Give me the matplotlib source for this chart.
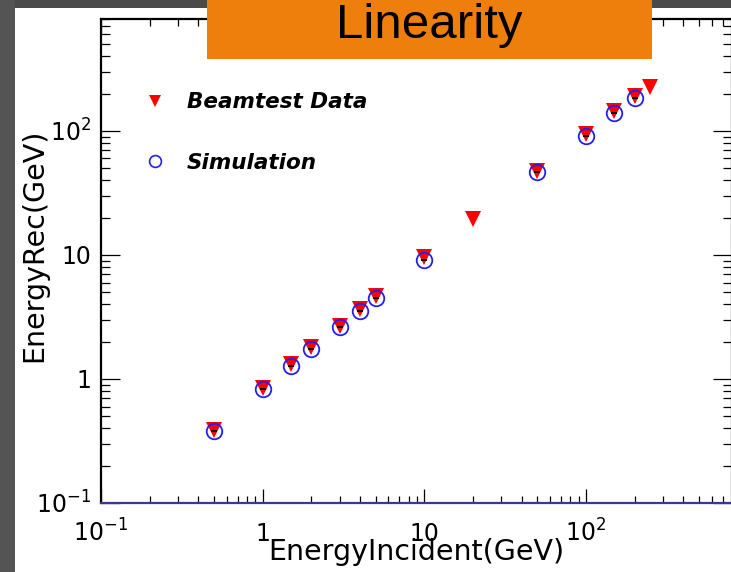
import matplotlib
matplotlib.use("Agg")
import matplotlib.pyplot as plt
from matplotlib.patches import Rectangle
from matplotlib.lines import Line2D
from matplotlib.ticker import FixedLocator, NullFormatter, LogLocator

plt.rcParams['font.family'] = ['DejaVu Sans']
plt.rcParams['mathtext.fontset'] = 'dejavusans'

# ---- data ----
beam_energy = [0.5, 1, 1.5, 2, 3, 4, 5, 10, 20, 50, 100, 150, 200, 250]
beam_rec = [0.39, 0.85, 1.31, 1.80, 2.70, 3.65, 4.63, 9.6, 19.4, 48, 94, 144, 190, 228]
sim_energy = [0.5, 1, 1.5, 2, 3, 4, 5, 10, 50, 100, 150, 200]
sim_rec = [0.381, 0.83, 1.27, 1.75, 2.63, 3.54, 4.50, 9.12, 46.7, 91.2, 139.7, 184.6]
tick_vals = [0.1, 1, 10, 100]
tick_labels = ['$10^{-1}$', '1', '10', '$10^{2}$']
title = "Linearity"
xlabel = "EnergyIncident(GeV)"
ylabel = "EnergyRec(GeV)"
legend_labels = ["Beamtest Data", "Simulation"]

W, H = 731, 572
fig = plt.figure(figsize=(W / 100, H / 100), dpi=100)
fig.patch.set_facecolor('#4a4a4a')
# slide panels
fig.patches.append(Rectangle((0, 0), 15 / W, 1, transform=fig.transFigure,
                             facecolor='#545454', edgecolor='none', zorder=-6))
fig.patches.append(Rectangle((15 / W, 0), 1 - 15 / W, 1 - 8 / H, transform=fig.transFigure,
                             facecolor='white', edgecolor='none', zorder=-5))

ax = fig.add_axes([101 / W, (H - 503) / H, 631 / W, 484 / H])
ax.set_xscale('log')
ax.set_yscale('log')
ax.set_xlim(0.1, 800)
ax.set_ylim(0.1, 800)

ax.plot(beam_energy, beam_rec, linestyle='none', marker='v', markersize=11,
        color='#ff0000', markeredgewidth=0, zorder=3)
ax.plot(sim_energy, sim_rec, linestyle='none', marker='o', markersize=11.2,
        markerfacecolor='none', markeredgecolor='#2020f0', markeredgewidth=1.3, zorder=4)
ax.plot(sim_energy, sim_rec, linestyle='none', marker='_', markersize=5,
        color='black', markeredgewidth=1.4, zorder=5)

for s in ax.spines.values():
    s.set_linewidth(1.6)
    s.set_color('black')
ax.spines['bottom'].set_color('#3a3a8a')

ax.xaxis.set_major_locator(FixedLocator(tick_vals))
ax.yaxis.set_major_locator(FixedLocator(tick_vals))
ax.xaxis.set_minor_locator(LogLocator(base=10, subs=range(2, 10), numticks=20))
ax.yaxis.set_minor_locator(LogLocator(base=10, subs=range(2, 10), numticks=20))
ax.xaxis.set_minor_formatter(NullFormatter())
ax.yaxis.set_minor_formatter(NullFormatter())
ax.set_xticks(tick_vals, tick_labels)
ax.set_yticks(tick_vals, tick_labels)

ax.tick_params(axis='both', which='both', direction='in', top=True, right=True,
               labelsize=17, colors='black', width=0.9)
ax.tick_params(axis='x', which='major', length=10, pad=27.5)
ax.tick_params(axis='x', which='minor', length=5)
ax.tick_params(axis='y', which='major', length=13.5, pad=7)
ax.tick_params(axis='y', which='minor', length=6.8)
for t in ax.get_xticklabels():
    t.set_va('baseline')

ax.set_xlabel(xlabel, fontsize=20.5)
ax.xaxis.set_label_coords(0.500, -0.118)
ax.xaxis.label.set_va('baseline')
ax.set_ylabel(ylabel, fontsize=20.5)
ax.yaxis.set_label_coords(-0.106, 0.533)
ax.yaxis.label.set_va('center')

handles = [
    Line2D([], [], linestyle='none', marker='v', markersize=9, color='#ff0000', markeredgewidth=0),
    Line2D([], [], linestyle='none', marker='o', markersize=8.5, markerfacecolor='none',
           markeredgecolor='#2020f0', markeredgewidth=1.2),
]
leg = ax.legend(handles, legend_labels, loc='upper left', bbox_to_anchor=(0.069, 0.849),
                frameon=False, borderaxespad=0, borderpad=0, handlelength=1.0,
                handletextpad=0.97, labelspacing=1.9,
                prop={'size': 15.5, 'weight': 'bold', 'style': 'italic'})

# title box
fig.patches.append(Rectangle((207 / W, (H - 59) / H), 445 / W, 59 / H, transform=fig.transFigure,
                             facecolor='#ef7f0c', edgecolor='none', zorder=10))
fig.text(429 / W, (H - 38) / H, title, ha='center', va='baseline', fontsize=35.5,
         family=['Liberation Sans', 'DejaVu Sans'], color='black', zorder=11)

fig.savefig('out.png', dpi=100, facecolor=fig.get_facecolor())
